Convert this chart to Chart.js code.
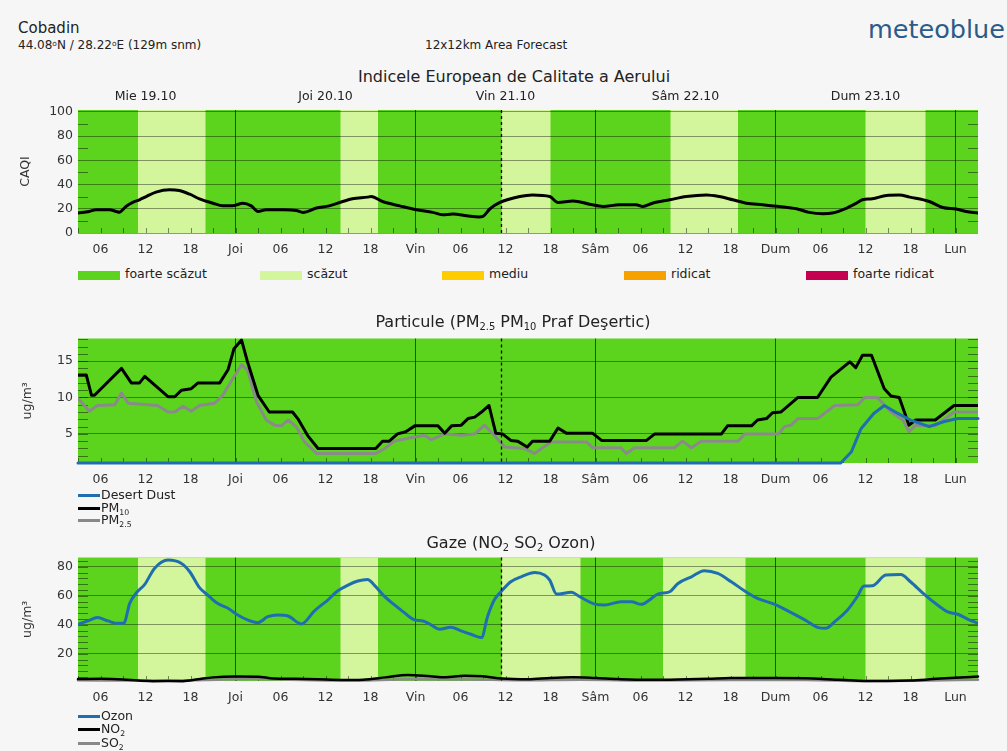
<!DOCTYPE html>
<html>
<head>
<meta charset="utf-8">
<script src="https://cdn.jsdelivr.net/npm/chart.js@4.4.0/dist/chart.umd.min.js"></script>
<style>
html,body{margin:0;padding:0;}
body{width:1007px;height:751px;background:#f6f6f6;position:relative;overflow:hidden;font-family:"DejaVu Sans",sans-serif;color:#222;}
canvas{position:absolute;left:0;}
.t{position:absolute;white-space:nowrap;line-height:1;}
.sub{font-size:0.62em;position:relative;top:0.35em;}
.sup{font-size:0.62em;position:relative;top:-0.45em;}
.lg{position:absolute;white-space:nowrap;font-size:12.5px;line-height:1;}
.lg .ln{display:inline-block;width:22px;height:3px;vertical-align:middle;margin-right:1px;}
.sw{position:absolute;width:42px;height:9px;}
</style>
</head>
<body>
<canvas id="c1" width="1007" height="170" style="top:88px;width:1007px;height:170px"></canvas>
<canvas id="c2" width="1007" height="162" style="top:326px;width:1007px;height:162px"></canvas>
<canvas id="c3" width="1007" height="161" style="top:545px;width:1007px;height:161px"></canvas>

<div class="t" style="left:18px;top:21px;font-size:15px;">Cobadin</div>
<div class="t" style="left:18px;top:39px;font-size:12px;">44.08<span class="sup">o</span>N / 28.22<span class="sup">o</span>E (129m snm)</div>
<div class="t" style="left:425px;top:39px;font-size:12px;">12x12km Area Forecast</div>
<div class="t" style="left:868px;top:17px;font-size:25.5px;color:#2c5b88;">meteoblue</div>

<div class="t" style="left:514px;top:69px;font-size:16px;transform:translateX(-50%);">Indicele European de Calitate a Aerului</div>
<div class="t" style="left:513px;top:314px;font-size:16px;transform:translateX(-50%);">Particule (PM<span class="sub">2.5</span> PM<span class="sub">10</span> Praf Deşertic)</div>
<div class="t" style="left:511px;top:535px;font-size:16px;transform:translateX(-50%);">Gaze (NO<span class="sub">2</span> SO<span class="sub">2</span> Ozon)</div>

<div id="legend1"></div>

<div class="lg" style="left:78px;top:489px;"><span class="ln" style="background:#1f6fb0"></span>Desert Dust</div>
<div class="lg" style="left:78px;top:502px;"><span class="ln" style="background:#000"></span>PM<span class="sub">10</span></div>
<div class="lg" style="left:78px;top:514px;"><span class="ln" style="background:#888"></span>PM<span class="sub">2.5</span></div>

<div class="lg" style="left:78px;top:710px;"><span class="ln" style="background:#1f6fb0"></span>Ozon</div>
<div class="lg" style="left:78px;top:723px;"><span class="ln" style="background:#000"></span>NO<span class="sub">2</span></div>
<div class="lg" style="left:78px;top:737px;"><span class="ln" style="background:#888"></span>SO<span class="sub">2</span></div>

<script>
// ---------- axis definitions ----------
const X_MIN = 3, X_MAX = 123;
const hourTicks = [6,12,18,24,30,36,42,48,54,60,66,72,78,84,90,96,102,108,114,120];
const hourTickLabels = ['06','12','18','Joi','06','12','18','Vin','06','12','18','Sâm','06','12','18','Dum','06','12','18','Lun'];
const dayTickHours = [12,36,60,84,108];
const dayTickLabels = ['Mie 19.10','Joi 20.10','Vin 21.10','Sâm 22.10','Dum 23.10'];
const nowHour = 59.4;

// ---------- CAQI ----------
const caqiHours  = [3,4.5,5.4,7.2,8.1,8.5,9.4,10.3,11.2,12.1,13.4,15.2,16.5,17.9,19.2,21,22.3,23.6,25,26.1,27,28.1,30.4,32.1,33,34.8,36.5,38.3,39.6,41.6,42.1,43.6,45.9,48.1,50.3,51.6,53,54.8,56.5,57,57.9,59.2,61.9,63.6,65.9,67,69,71.2,73,75.2,77.4,78.3,79.6,81.9,84.1,86.8,88.5,90.3,92.1,94.3,96.5,98.8,100.5,102.3,103.6,105.5,106.8,107.6,108.9,110.8,112.5,113.9,116.5,118.3,120.1,121.4,123];
const caqiValues = [16.5,17.8,19.2,19.2,17.8,17.2,21.9,25.2,27.4,30.1,33.7,35.6,35,32,28.2,24.6,22.4,22.4,24.6,22.4,17.8,19.2,19.2,18.6,17,20.6,22.4,26,28.2,29.6,30.1,26,22.4,19.2,17,15.1,15.6,14.3,13.2,13.7,19.8,25,30.1,31.4,30.1,25.2,26.5,23.8,21.9,23.3,23.3,21.9,24.6,27.4,30.1,31.4,30.1,27.4,24.6,23.3,21.9,20,17,15.9,16.5,20.6,24.6,27.4,28.2,31,31.4,29.6,26,21.1,19.8,17.8,16.5];
const caqiTicks = [0,20,40,60,80,100];
const caqiLowBands = [[11,20],[38,43],[59.5,66],[82,91],[108,116]];
const caqiCategories = ['foarte scăzut','scăzut','mediu','ridicat','foarte ridicat'];
const caqiCategoryColors = ['#5cd41e','#d3f59b','#ffcc00','#f7a100','#c4004f'];

// ---------- Particles ----------
const pm10Hours  = [3,4.1,4.8,5.2,8.8,10.1,11.2,11.9,15,15.9,16.8,18.1,19,21.9,23,23.8,24.8,25.6,27,28.5,31.6,32.3,33.6,35,42.7,43.6,44.5,45.6,46.7,47.9,51,51.9,52.8,54.1,55,55.9,56.8,57.8,58.7,59.6,60.7,61.6,62.9,63.6,65.9,67,68.1,71.6,72.8,78.8,79.9,88.8,89.6,92.8,93.6,94.8,95.6,96.7,99,101.6,103.4,105.9,106.7,107.6,108.8,110.5,111.4,112.5,113.8,114.7,117.3,119.8,123];
const pm10Values = [13.1,13.1,10.3,10.3,14,12,12,12.9,10.1,10.1,11,11.2,12,12,13.8,16.7,17.9,14.9,10.3,8,8,7.1,4.8,3,3,4,4,5,5.3,6.1,6.1,5.1,6.1,6.2,7.1,7.3,8,8.9,5.1,5,4.1,4,3.2,4,4,5.8,5.1,5.1,4.1,4.1,5,5,6.1,6.1,6.9,7.1,7.9,8,10,10,12.8,14.9,14.1,15.8,15.8,11.2,10.2,10,6.2,6.9,6.9,8.9,8.9];
const pm25Hours  = [3,4.5,5.6,7.9,8.8,9.7,13.6,15,15.9,17,18.1,19.2,21.2,22.3,23.4,24.8,25.6,26.8,28.1,29.2,30.1,31,32.1,33.2,34.8,42.7,43.9,45.2,47,49.2,50.1,51.9,54.1,55.9,57.2,58.5,59.9,62.5,63.9,64.8,66.1,70.8,71.6,75.4,76.1,77.2,82.5,83.6,84.8,86.1,91,91.9,96.4,97.2,98.1,99,101.6,103.9,107,107.9,109.6,111.4,113,113.8,114.7,117.3,119.8,123];
const pm25Values = [9.9,8.1,8.9,9,10.6,9.2,8.9,8,8,8.8,8.1,8.9,9.2,10.3,12.2,14.5,13.8,9.4,6.9,6.2,6.1,6.9,6,3.9,2.3,2.3,3,4,4.4,4.8,4.2,5,4.8,5,6.2,4.8,3.2,3,2.3,3,3.9,3.9,3.1,3.1,2.3,3.1,3.1,4,3.1,4,4,5,5,6,6.2,7.1,7.1,8.9,9,10,10,8,6.9,5.3,6.2,6.1,8,8];
const dustHours  = [3,104.7,106.1,107.4,109.1,110.5,111.8,114,116.5,118.5,120.3,123];
const dustValues = [1,1,2.5,5.7,7.8,8.9,8.1,6.9,6,6.7,7.1,7.1];
const pmTicks = [5,10,15];

// ---------- Gases ----------
const ozoneHours  = [3,4.3,5.6,7,8.1,9.1,9.9,10.8,11.9,13.2,15,16.8,17.9,19.2,20.3,21.6,23,24.3,25.6,27,28.3,29.6,31,32.8,34.5,36.3,37.6,39,40.3,41.6,42.5,43.9,45.2,46.5,47.9,49,50.1,51.2,52.7,54.1,55.4,56.8,57.6,58.5,59.4,60.7,62.1,63.9,65.2,65.9,66.8,68.8,69.9,71.9,73.2,75.4,76.8,78.1,79.2,80.3,81.9,83,84.8,86.5,88.3,90.1,91.9,93.6,95.9,98.1,99.9,101.6,102.7,103.9,105.6,106.9,107.8,108.9,110.7,112.7,114,115.8,117.6,118.9,120.3,121.6,123];
const ozoneValues = [40.4,42.7,45,42.7,41.1,41.1,54.8,62.1,67.9,78.9,84.6,82.3,76.6,65.6,60.5,54.8,51.4,46.8,43.4,41.5,45.6,46.8,46.1,40.6,49.5,57.1,63.3,67.4,70.2,71.3,67.4,59.4,53.7,48.4,43.4,42.7,39.9,36.9,38.3,35.8,33.5,31.2,45.6,57.1,62.8,69.7,73.1,76.1,74.3,70.8,61.2,62.4,59.4,54.3,53.7,55.9,55.9,54.1,57.1,61.2,62.8,68.5,73.1,77.3,75.4,69.7,63.3,58.2,54.1,48.4,43.4,38.3,37.6,42.2,50.2,59.4,66.7,66.9,74.3,74.7,69.7,61.2,53.7,49.1,47.3,44,41.1];
const no2Hours  = [3,6,9,11,13,17,19,21,24,27,29,32,35,38,41,44,47,50,52,54.5,57,59.5,63,66,69,72,75,79,83,87,90,96,101,104,107,111,114,117,120,123];
const no2Values = [2.6,2.8,2.4,1.6,1.2,1.2,2.5,3.8,4.4,4.3,3,2.8,2.5,2,2.2,3.8,5.5,4.5,3.8,4.9,4.5,3,2.5,3.4,3.8,3.3,2.6,2.1,2.3,2.8,3.3,3.4,3.1,2.2,1.5,1.3,1.6,2.6,3.6,4.4];
const so2Hours  = [3,12,20,26,33,40,47,55,62,70,80,90,100,108,115,123];
const so2Values = [1.8,1.6,2,2.6,2,1.6,2.5,2.4,1.8,2.2,1.6,2,2,1.3,1.5,2.2];
const gasTicks = [20,40,60,80];
const gasLowBands = [[11,20],[38,43],[59.5,70],[81,92],[108,116]];

// ---------- styles ----------
const FONT = 'DejaVu Sans';
Chart.defaults.font.family = FONT;
Chart.defaults.color = '#333';
const DARK = '#5cd41e', LIGHT = '#d3f59b';
const BLUE = '#1f6fb0';

function pts(h, v){ return h.map((x,i)=>({x:x, y:v[i]})); }

const panelPlugin = {
  id: 'panel',
  beforeDraw(chart, args, o){
    const {ctx, chartArea:a, scales:{x}} = chart;
    ctx.save();
    ctx.fillStyle = DARK;
    ctx.fillRect(a.left, a.top, a.width, a.height);
    ctx.fillStyle = LIGHT;
    (o.bands||[]).forEach(([s,e])=>{
      const x0 = Math.max(a.left, x.getPixelForValue(s));
      const x1 = Math.min(a.right, x.getPixelForValue(e));
      ctx.fillRect(x0, a.top, x1-x0, a.height);
    });
    ctx.restore();
  },
  beforeDatasetsDraw(chart, args, o){
    const {ctx, chartArea:a, scales:{x, y}} = chart;
    ctx.save();
    ctx.strokeStyle = 'rgba(0,0,0,0.45)';
    ctx.lineWidth = 1;
    ctx.beginPath();
    for (let v = o.minorStart; v < y.max; v += o.minorStep){
      const py = Math.round(y.getPixelForValue(v)) + 0.5;
      if (py < a.top || py > a.bottom) continue;
      ctx.moveTo(a.left, py); ctx.lineTo(a.left + 10, py);
      ctx.moveTo(a.right - 10, py); ctx.lineTo(a.right, py);
    }
    for (let h = 3; h < X_MAX; h += 3){
      const px = Math.round(x.getPixelForValue(h)) + 0.5;
      ctx.moveTo(px, a.bottom); ctx.lineTo(px, a.bottom - 5);
    }
    ctx.stroke();
    ctx.restore();
  },
  afterDatasetsDraw(chart){
    const {ctx, chartArea:a, scales:{x}} = chart;
    const px = Math.round(x.getPixelForValue(nowHour)) + 0.5;
    ctx.save();
    ctx.strokeStyle = '#000';
    ctx.lineWidth = 1.3;
    ctx.setLineDash([3,3]);
    ctx.beginPath(); ctx.moveTo(px, a.top); ctx.lineTo(px, a.bottom); ctx.stroke();
    ctx.restore();
  }
};

function xScale(){
  return {
    type:'linear', position:'bottom', min:X_MIN, max:X_MAX,
    afterBuildTicks: s => { s.ticks = hourTicks.map(v=>({value:v})); },
    afterFit: s => { s.height = 25; },
    ticks:{autoSkip:false, maxRotation:0, minRotation:0, padding:9, font:{size:12.5}, color:'#333',
      callback:(v,i)=>hourTickLabels[i]},
    grid:{drawTicks:false, lineWidth:1,
      color: c => (c.tick && c.tick.value % 24 === 0) ? 'rgba(0,0,0,0.6)' : 'rgba(0,0,0,0)'},
    border:{display:false}
  };
}
function yScale(min, max, ticks, title, padTop){
  return {
    type:'linear', position:'left', min:min, max:max,
    afterBuildTicks: s => { s.ticks = ticks.map(v=>({value:v})); },
    afterFit: s => { s.width = 78; },
    ticks:{padding:5, font:{size:12.5}, color:'#333'},
    grid:{drawTicks:false, color:'rgba(0,0,0,0.4)', lineWidth:1},
    border:{display:false},
    title:{display:true, text:title, font:{size:12.5}, color:'#333', padding:{top:padTop, bottom:0}}
  };
}
function line(data, color, width, opts){
  return Object.assign({data:data, borderColor:color, backgroundColor:color, borderWidth:width,
    pointRadius:0, fill:false, borderJoinStyle:'round', borderCapStyle:'round'}, opts||{});
}
function baseOptions(padTop, scales, panelOpts){
  return {
    responsive:false, animation:false, devicePixelRatio:1,
    layout:{padding:{left:0, right:29, top:padTop, bottom:0}},
    scales:scales,
    plugins:{legend:{display:false}, tooltip:{enabled:false}, panel:panelOpts}
  };
}

// Chart 1: CAQI
new Chart(document.getElementById('c1'), {
  type:'line',
  data:{datasets:[ line(pts(caqiHours, caqiValues), '#000', 3, {cubicInterpolationMode:'monotone'}) ]},
  options: baseOptions(0, {
    x: xScale(),
    x2: {type:'linear', position:'top', min:X_MIN, max:X_MAX,
      afterBuildTicks: s => { s.ticks = dayTickHours.map(v=>({value:v})); },
      afterFit: s => { s.height = 22; },
      ticks:{autoSkip:false, maxRotation:0, padding:6, font:{size:12.5}, color:'#222', callback:(v,i)=>dayTickLabels[i]},
      grid:{display:false, drawTicks:false}, border:{display:false}},
    y: yScale(0, 101.5, caqiTicks, 'CAQI', 18)
  }, {bands:caqiLowBands, minorStart:10, minorStep:20}),
  plugins:[panelPlugin]
});

// Chart 2: particles
new Chart(document.getElementById('c2'), {
  type:'line',
  data:{datasets:[
    line(pts(dustHours, dustValues), BLUE, 3, {order:1, clip:false}),
    line(pts(pm10Hours, pm10Values), '#000', 3, {order:2}),
    line(pts(pm25Hours, pm25Values), '#8a8a8a', 3, {order:3})
  ]},
  options: baseOptions(12, {
    x: xScale(),
    y: yScale(1, 18.1, pmTicks, 'ug/m³', 20)
  }, {bands:[], minorStart:1, minorStep:1}),
  plugins:[panelPlugin]
});

// Chart 3: gases
new Chart(document.getElementById('c3'), {
  type:'line',
  data:{datasets:[
    line(pts(ozoneHours, ozoneValues), BLUE, 3, {order:1, cubicInterpolationMode:'monotone'}),
    line(pts(no2Hours, no2Values), '#000', 2.5, {order:2, cubicInterpolationMode:'monotone', clip:false}),
    line(pts(so2Hours, so2Values), '#8a8a8a', 2.5, {order:3, cubicInterpolationMode:'monotone', clip:false})
  ]},
  options: baseOptions(12, {
    x: xScale(),
    y: yScale(1.3, 86.4, gasTicks, 'ug/m³', 20)
  }, {bands:gasLowBands, minorStart:4, minorStep:4}),
  plugins:[panelPlugin]
});

// Legend for CAQI categories
const lg = document.getElementById('legend1');
caqiCategories.forEach((name, i) => {
  const left = 78 + i*182;
  const sw = document.createElement('div');
  sw.className = 'sw';
  sw.style.left = left + 'px'; sw.style.top = '271px'; sw.style.background = caqiCategoryColors[i];
  lg.appendChild(sw);
  const t = document.createElement('div');
  t.className = 't';
  t.style.left = (left + 47) + 'px'; t.style.top = '268px'; t.style.fontSize = '12.5px';
  t.textContent = name;
  lg.appendChild(t);
});
</script>
</body>
</html>
